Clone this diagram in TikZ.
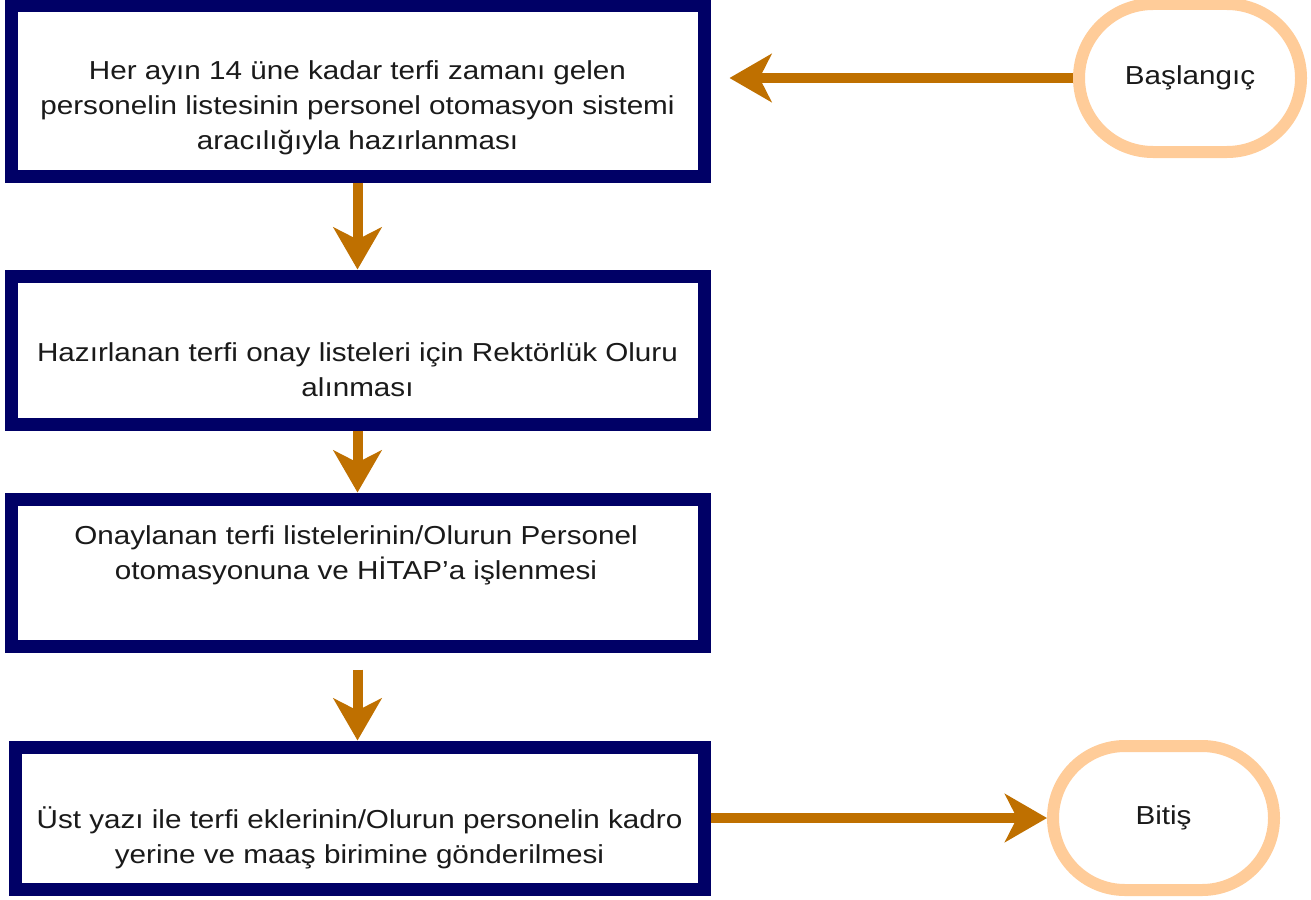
\documentclass[tikz,border=0pt]{standalone}
\usepackage{fontspec}
\setmainfont{Liberation Sans}[FakeStretch=1.14]
\usetikzlibrary{arrows.meta,shapes.misc}
\definecolor{boxnavy}{HTML}{000066}
\definecolor{arrowbrown}{HTML}{BF7000}
\definecolor{peach}{HTML}{FFCC99}
\definecolor{txt}{HTML}{1A1A1A}
\tikzset{
  procbox/.style={draw=boxnavy, line width=13pt, fill=white, rectangle, inner sep=0pt},
  terminal/.style={draw=peach, line width=12pt, fill=white, rounded rectangle, inner sep=0pt, font=\fontsize{26}{35}\selectfont, text=txt},
  boxtext/.style={align=center, font=\fontsize{26}{35}\selectfont, text=txt, inner sep=0pt},
  flow/.style={draw=arrowbrown, line width=10pt, -{Stealth[length=42pt, width=48pt, inset=12pt]}}
}
\begin{document}
\begin{tikzpicture}[x=1pt, y=-1pt]
\useasboundingbox (0,0) rectangle (1311,899);
% process boxes
\node[procbox, minimum width=693pt, minimum height=170pt] (b1) at (357.5,91) {};
\node[procbox, minimum width=693pt, minimum height=148pt] (b2) at (357.5,350) {};
\node[procbox, minimum width=693pt, minimum height=147pt] (b3) at (357.5,572.5) {};
\node[procbox, minimum width=689pt, minimum height=142pt] (b4) at (359.5,818) {};
% texts
\node[boxtext] (t1) at (357.5,108) {Her ayın 14 üne kadar terfi zamanı gelen\\personelin listesinin personel otomasyon sistemi\\aracılığıyla hazırlanması};
\node[boxtext] (t2) at (357.5,370) {Hazırlanan terfi onay listeleri için Rektörlük Oluru\\alınması};
\node[boxtext] (t3) at (356,555) {Onaylanan terfi listelerinin/Olurun Personel\\otomasyonuna ve HİTAP’a işlenmesi};
\node[boxtext] (t4) at (359.5,838) {Üst yazı ile terfi eklerinin/Olurun personelin kadro\\yerine ve maaş birimine gönderilmesi};
% terminals
\node[terminal, minimum width=222pt, minimum height=148pt] (start) at (1190,78) {Başlangıç};
\node[terminal, minimum width=221pt, minimum height=144pt] (end) at (1163.5,818) {Bitiş};
% connectors
\coordinate (startin) at (start.west -| b1.east);
\draw[flow, shorten >=19pt] (start.west) -- (startin);
\draw[flow] (b1.south) -- (b2.north);
\draw[flow] (b2.south) -- (b3.north);
\draw[flow, shorten <=17pt] (b3.south) -- (b3.south |- b4.north);
\draw[flow] (b4.east |- end.west) -- (end.west);
\end{tikzpicture}
\end{document}
